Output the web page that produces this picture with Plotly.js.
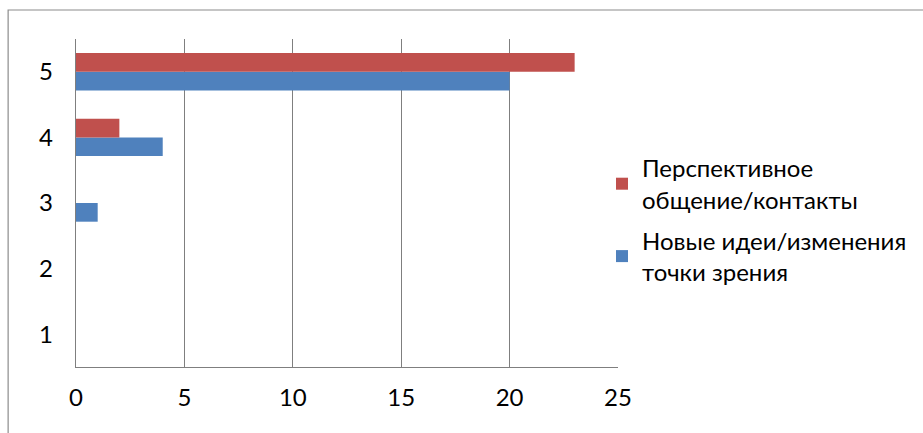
<!DOCTYPE html>
<html>
<head>
<meta charset="utf-8">
<script src="https://cdn.plot.ly/plotly-3.0.1.min.js"></script>
<style>html,body{margin:0;padding:0;background:#fff;}#chart{width:923px;height:433px;}</style>
</head>
<body>
<div id="chart"></div>
<script>
var categories = ['1', '2', '3', '4', '5'];
var contactsName = 'Перспективное<br>общение/контакты';
var contactsValues = [0, 0, 0, 2, 23];
var ideasName = 'Новые идеи/изменения<br>точки зрения';
var ideasValues = [0, 0, 1, 4, 20];
var xTicks = [0, 5, 10, 15, 20, 25];

var W = 923, H = 433;
var L = 76, R = 304, T = 39, B = 66;
var pw = W - L - R, ph = H - T - B;
function px(x) { return (x - L) / pw; }
function py(y) { return (H - B - y) / ph; }

var traces = [
  {type: 'bar', orientation: 'h', y: categories, x: ideasValues, name: ideasName,
   legendgroup: 'b', legendrank: 2,
   marker: {color: '#4F81BD', line: {width: 0}}},
  {type: 'bar', orientation: 'h', y: categories, x: contactsValues, name: contactsName,
   legendgroup: 'a', legendrank: 1,
   marker: {color: '#C0504D', line: {width: 0}}}
];

var layout = {
  width: W, height: H,
  margin: {l: L, r: R, t: T, b: B, pad: 0},
  paper_bgcolor: '#fff', plot_bgcolor: '#fff',
  font: {family: 'Lato, sans-serif', size: 24, color: '#000'},
  barmode: 'group', bargap: 0.43, bargroupgap: 0,
  showlegend: true,
  legend: {x: px(602), xanchor: 'left', y: py(220), yanchor: 'middle',
           traceorder: 'grouped', itemwidth: 30, font: {size: 24},
           bgcolor: 'rgba(0,0,0,0)', tracegroupgap: 7},
  xaxis: {range: [0, 25], tickvals: xTicks, showgrid: true, gridcolor: '#7f7f7f', gridwidth: 1.2,
          zeroline: false, showline: true, linecolor: '#7f7f7f', linewidth: 1.2,
          ticks: 'outside', ticklen: 9, tickcolor: 'rgba(0,0,0,0)', fixedrange: true},
  yaxis: {type: 'category', categoryarray: categories, showgrid: false, zeroline: false,
          showline: true, linecolor: '#7f7f7f', linewidth: 1.2,
          ticks: 'outside', ticklen: 17, tickcolor: 'rgba(0,0,0,0)', fixedrange: true},
  shapes: [
    {type: 'rect', xref: 'paper', yref: 'paper', x0: px(8), x1: px(940), y0: py(450), y1: py(10),
     line: {color: '#8c8c8c', width: 1.2}, fillcolor: 'rgba(0,0,0,0)', layer: 'below'}
  ]
};

Plotly.newPlot('chart', traces, layout, {displayModeBar: false, staticPlot: true});
</script>
</body>
</html>
